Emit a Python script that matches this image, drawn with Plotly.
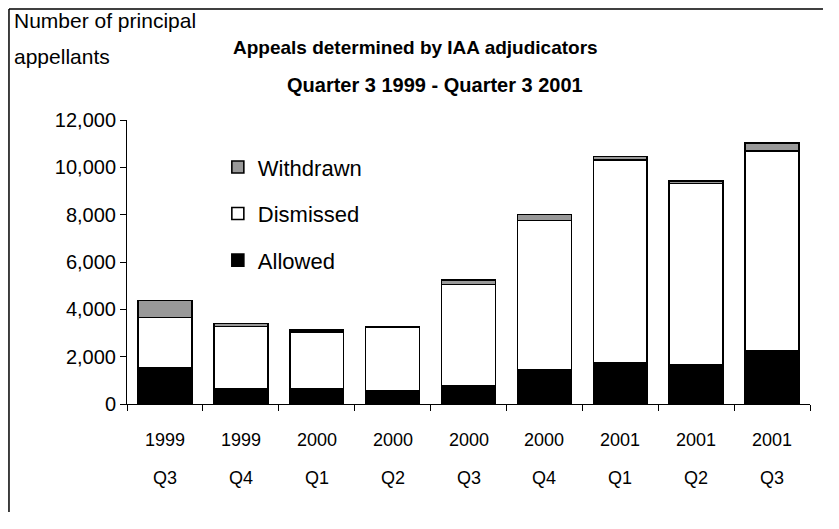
import plotly.graph_objects as go

years = ["1999", "1999", "2000", "2000", "2000", "2000", "2001", "2001", "2001"]
quarters = ["Q3", "Q4", "Q1", "Q2", "Q3", "Q4", "Q1", "Q2", "Q3"]
categories = [f"{y} {q}" for y, q in zip(years, quarters)]

allowed = [1550, 650, 650, 560, 750, 1450, 1750, 1650, 2250]
dismissed = [2100, 2630, 2380, 2690, 4300, 6300, 8570, 7670, 8440]
withdrawn = [730, 120, 100, 20, 200, 250, 130, 100, 350]

y_ticks = [0, 2000, 4000, 6000, 8000, 10000, 12000]

FONT = "Liberation Sans, Arial, sans-serif"
BLACK = "#000000"

fig = go.Figure()
series = [("Allowed", allowed, "#000000", 3),
          ("Dismissed", dismissed, "#ffffff", 2),
          ("Withdrawn", withdrawn, "#999999", 1)]
for name, vals, col, rank in series:
    fig.add_trace(go.Bar(
        x=categories, y=vals, name=name, legendgroup=name, legendrank=rank,
        marker=dict(color=col, line=dict(color=BLACK, width=1.6)),
    ))

annotations = []
for c, y, q in zip(categories, years, quarters):
    annotations.append(dict(x=c, y=-0.127, xref="x", yref="paper", text=y,
                            showarrow=False, yanchor="middle",
                            font=dict(family=FONT, size=18, color=BLACK)))
    annotations.append(dict(x=c, y=-0.261, xref="x", yref="paper", text=q,
                            showarrow=False, yanchor="middle",
                            font=dict(family=FONT, size=18, color=BLACK)))

annotations += [
    dict(x=0.4217, y=1.257, xref="paper", yref="paper",
         text="<b>Appeals determined by IAA adjudicators</b>", showarrow=False,
         xanchor="center", yanchor="middle", font=dict(family=FONT, size=19, color=BLACK)),
    dict(x=0.451, y=1.123, xref="paper", yref="paper",
         text="<b>Quarter 3 1999 - Quarter 3 2001</b>", showarrow=False,
         xanchor="center", yanchor="middle", font=dict(family=FONT, size=20, color=BLACK)),
    dict(x=-0.168, y=1.350, xref="paper", yref="paper", text="Number of principal",
         showarrow=False, xanchor="left", yanchor="middle",
         font=dict(family=FONT, size=21, color=BLACK)),
    dict(x=-0.168, y=1.222, xref="paper", yref="paper", text="appellants",
         showarrow=False, xanchor="left", yanchor="middle",
         font=dict(family=FONT, size=21, color=BLACK)),
]

fig.update_layout(
    width=815, height=505,
    margin=dict(l=119, r=13, t=112, b=109),
    paper_bgcolor="#ffffff", plot_bgcolor="#ffffff",
    barmode="stack", bargap=0.29,
    font=dict(family=FONT, size=18, color=BLACK),
    showlegend=True,
    legend=dict(x=0.133, y=0.908, xanchor="left", yanchor="top",
                traceorder="grouped", tracegroupgap=15,
                bgcolor="rgba(0,0,0,0)", font=dict(family=FONT, size=22, color=BLACK)),
    annotations=annotations,
    shapes=[
        dict(type="line", xref="paper", yref="paper", x0=-0.1728, x1=-0.1728,
             y0=-0.38, y1=1.391, line=dict(color=BLACK, width=1.5), layer="below"),
        dict(type="line", xref="paper", yref="paper", x0=-0.1728, x1=1.019,
             y0=1.391, y1=1.391, line=dict(color=BLACK, width=1.5), layer="below"),
    ],
)
fig.update_xaxes(showline=True, linecolor=BLACK, linewidth=1, ticks="outside",
                 tickson="boundaries", ticklen=6, tickcolor=BLACK,
                 showticklabels=False, showgrid=False, zeroline=False)
fig.update_yaxes(range=[0, 12000], tickvals=y_ticks, tickformat=",",
                 showline=True, linecolor=BLACK, linewidth=1, ticks="outside",
                 ticklen=6, tickcolor=BLACK, showgrid=False, zeroline=False,
                 tickfont=dict(family=FONT, size=20, color=BLACK))

fig.write_html("out.html")
